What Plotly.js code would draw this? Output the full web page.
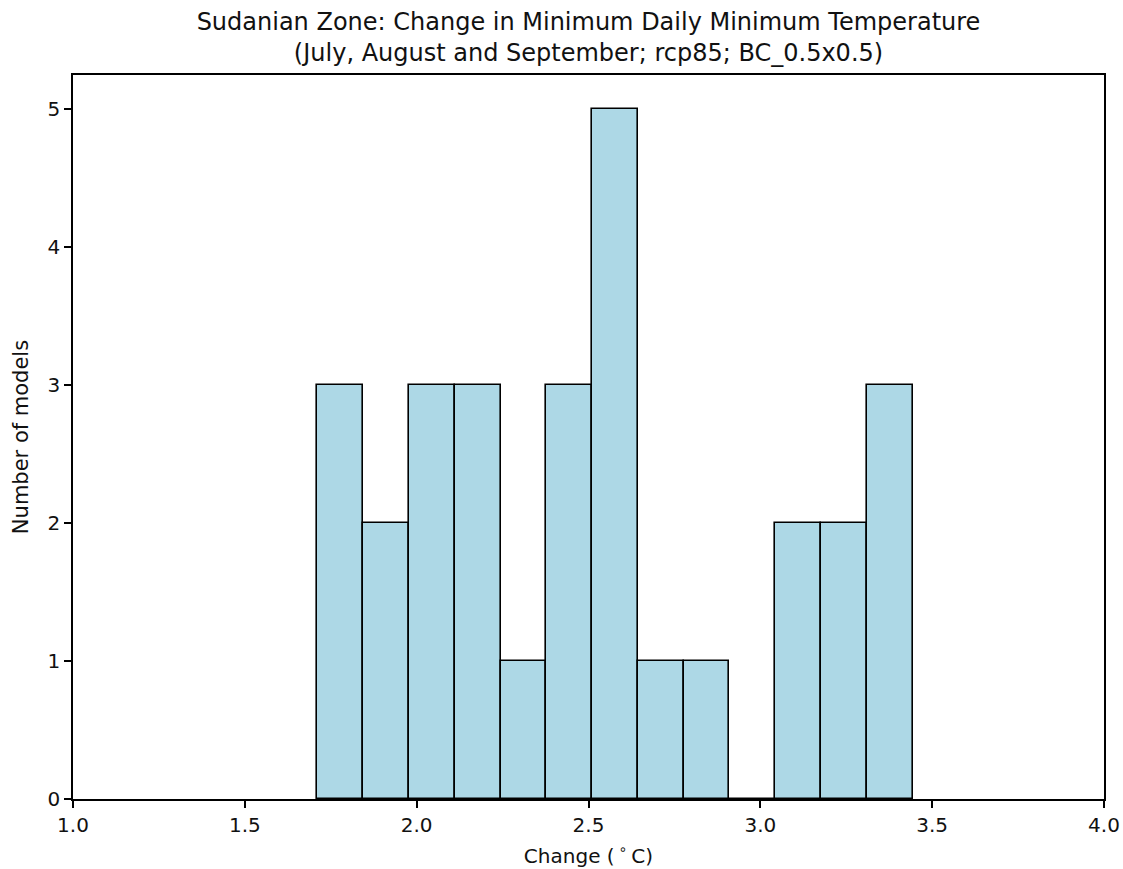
<!DOCTYPE html>
<html>
<head>
<meta charset="utf-8">
<script src="https://cdn.plot.ly/plotly-3.0.1.min.js"></script>
<style>html,body{margin:0;padding:0;background:#fff;}#chart{width:1123px;height:869px;}</style>
</head>
<body>
<div id="chart"></div>
<script>
// Histogram bin edges (°C)
const binEdges = [1.711, 1.844, 1.977, 2.111, 2.244, 2.377, 2.510, 2.644, 2.777, 2.910, 3.043, 3.177, 3.310, 3.443];
// Number of models per bin
const counts = [3, 2, 3, 3, 1, 3, 5, 1, 1, 0, 2, 2, 3];
const xTicks = [1.0, 1.5, 2.0, 2.5, 3.0, 3.5, 4.0];
const xTickLabels = ["1.0", "1.5", "2.0", "2.5", "3.0", "3.5", "4.0"];
const yTicks = [0, 1, 2, 3, 4, 5];

const centers = counts.map((c, i) => (binEdges[i] + binEdges[i + 1]) / 2);
const widths = counts.map((c, i) => binEdges[i + 1] - binEdges[i]);

const font = "DejaVu Sans, sans-serif";
const txt = "#111";
const trace = {
  type: "bar",
  x: centers,
  y: counts,
  width: widths,
  marker: {color: "#add8e6", line: {color: "#000", width: 1.6}},
  hoverinfo: "x+y"
};
const layout = {
  width: 1123, height: 869,
  margin: {l: 73, r: 19, t: 75, b: 70},
  paper_bgcolor: "#fff", plot_bgcolor: "#fff",
  font: {family: font, size: 20, color: txt},
  showlegend: false,
  bargap: 0,
  title: {
    text: "Sudanian Zone: Change in Minimum Daily Minimum Temperature<br>(July, August and September; rcp85; BC_0.5x0.5)",
    font: {family: font, size: 24, color: txt},
    x: 0.5, xanchor: "center", xref: "paper", y: 0.966, yanchor: "top"
  },
  xaxis: {
    range: [1, 4], tickvals: xTicks, ticktext: xTickLabels,
    ticks: "outside", ticklen: 7, tickwidth: 1.6, tickcolor: "#000",
    showline: true, linecolor: "#000", linewidth: 1.6, mirror: true,
    showgrid: false, zeroline: false,
    tickfont: {family: font, size: 20, color: txt},
    title: {text: "Change (\u2009<sup>∘</sup>\u2009C)", font: {family: font, size: 20, color: txt}, standoff: 13}
  },
  yaxis: {
    range: [0, 5.25], tickvals: yTicks,
    ticks: "outside", ticklen: 7, tickwidth: 1.6, tickcolor: "#000",
    showline: true, linecolor: "#000", linewidth: 1.6, mirror: true,
    showgrid: false, zeroline: false,
    tickfont: {family: font, size: 20, color: txt},
    title: {text: "Number of models", font: {family: font, size: 21, color: txt}, standoff: 13}
  }
};
Plotly.newPlot("chart", [trace], layout, {displayModeBar: false});
</script>
</body>
</html>
